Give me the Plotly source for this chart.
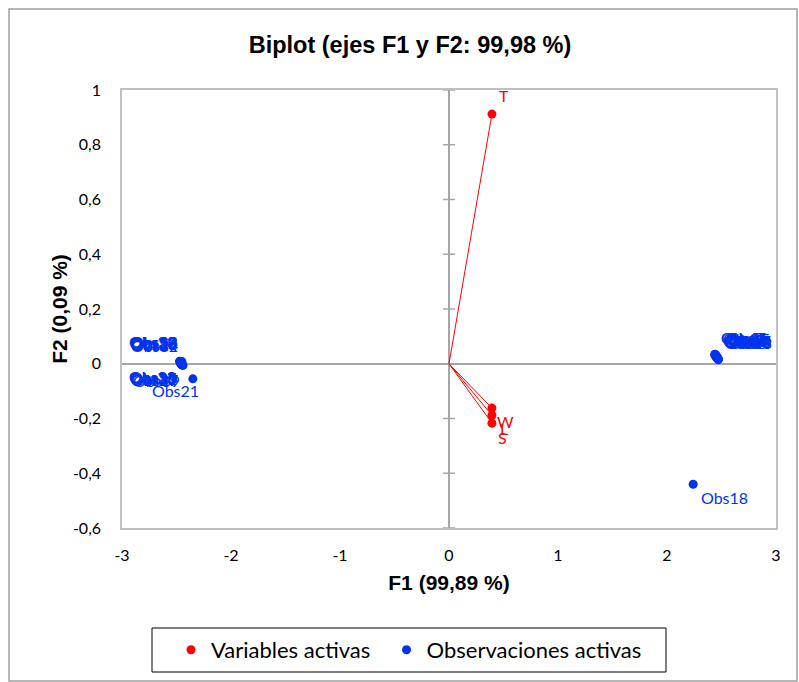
import plotly.graph_objects as go

# ---------------- data ----------------
var_names = ["T", "W", "L", "S"]
var_f1 = [0.394, 0.394, 0.394, 0.394]
var_f2 = [0.912, -0.162, -0.188, -0.217]

obs_names = ["Obs1", "Obs2", "Obs3", "Obs4", "Obs5", "Obs6", "Obs7", "Obs8", "Obs9", "Obs10",
             "Obs11", "Obs12", "Obs13", "Obs14", "Obs15", "Obs16", "Obs17", "Obs18", "Obs19",
             "Obs20", "Obs21", "Obs22", "Obs23", "Obs24", "Obs25", "Obs26", "Obs27", "Obs28",
             "Obs29", "Obs30", "Obs31", "Obs32", "Obs33", "Obs34", "Obs35", "Obs36", "Obs37",
             "Obs38", "Obs39", "Obs40"]
obs_f1 = [2.45, 2.46, 2.44, 2.47, 2.45, 2.46, 2.44, 2.47, 2.45, 2.46,
          2.44, 2.45, 2.47, 2.46, 2.45, 2.44, 2.46, 2.24, 2.47,
          -2.46, -2.35, -2.46, -2.47, -2.45, -2.46, -2.46, -2.45, -2.47,
          -2.45, -2.46, -2.46, -2.45, -2.47, -2.45, -2.46, -2.46, -2.45,
          -2.45, -2.44, -2.46]
obs_f2 = [0.030, 0.025, 0.035, 0.018, 0.028, 0.022, 0.033, 0.015, 0.027, 0.020,
          0.032, 0.024, 0.017, 0.021, 0.029, 0.034, 0.023, -0.440, 0.016,
          0.004, -0.055, 0.004, 0.008, -0.002, 0.006, 0.001, -0.004, 0.008,
          -0.003, 0.007, 0.002, -0.005, 0.009, -0.003, 0.005, 0.000, -0.004,
          0.008, -0.006, 0.003]

x_ticks = [-3, -2, -1, 0, 1, 2, 3]
y_ticks = [-0.6, -0.4, -0.2, 0, 0.2, 0.4, 0.6, 0.8, 1]
y_tick_text = ["-0,6", "-0,4", "-0,2", "0", "0,2", "0,4", "0,6", "0,8", "1"]

RED = "#ff0000"
BLUE = "#0033ee"
LABEL_FONT = "Lato, 'Open Sans', sans-serif"
BOLD_FONT = "Liberation Sans, Arial, sans-serif"

# label offsets (pixels) by placement
var_shift = [(12, 19), (14, -13), (12, -13), (11, -14)]
obs_shift = ([(30, 17)] * 17 + [(31, -13)] + [(30, 17)]
             + [(-27, -15), (-17, -12)]
             + [(-27, 20), (-27, -15)] * 9)

fig = go.Figure()

# vectors from origin to variables
lx, ly = [], []
for a, b in zip(var_f1, var_f2):
    lx += [0, a, None]
    ly += [0, b, None]
fig.add_trace(go.Scatter(x=lx, y=ly, mode="lines", line=dict(color=RED, width=1),
                         showlegend=False, hoverinfo="skip"))

fig.add_trace(go.Scatter(x=var_f1, y=var_f2, mode="markers",
                         name="Variables activas" + "\u00a0" * 2,
                         marker=dict(color=RED, size=9)))
fig.add_trace(go.Scatter(x=obs_f1, y=obs_f2, mode="markers", name="Observaciones activas",
                         marker=dict(color=BLUE, size=9)))

annotations = []
for n, a, b, (dx, dy) in zip(var_names, var_f1, var_f2, var_shift):
    annotations.append(dict(x=a, y=b, text=n, showarrow=False, xshift=dx, yshift=dy,
                            font=dict(color=RED, size=16, family=LABEL_FONT)))
for n, a, b, (dx, dy) in zip(obs_names, obs_f1, obs_f2, obs_shift):
    annotations.append(dict(x=a, y=b, text=n, showarrow=False, xshift=dx, yshift=dy,
                            font=dict(color=BLUE, size=16, family=LABEL_FONT)))

# crossing tick marks on the vertical zero axis
shapes = []
half = 6 * 6.0 / 654.0  # ~6 px in data units
for t in y_ticks:
    shapes.append(dict(type="line", xref="x", yref="y", x0=-half, x1=half, y0=t, y1=t,
                       line=dict(color="#a6a6a6", width=1.5), layer="below"))

# outer chart border
shapes.append(dict(type="rect", xref="paper", yref="paper",
                   x0=(9 - 122) / 654, x1=(797 - 122) / 654,
                   y0=-(681 - 528) / 438, y1=1 + (90 - 9) / 438,
                   line=dict(color="#a0a0a0", width=1.5)))
# legend frame
shapes.append(dict(type="rect", xref="paper", yref="paper",
                   x0=(152 - 122) / 654, x1=(666 - 122) / 654,
                   y0=-(672 - 528) / 438, y1=-(628 - 528) / 438,
                   line=dict(color="black", width=1)))

fig.update_layout(
    width=799, height=682,
    margin=dict(l=122, r=23, t=90, b=154, autoexpand=False),
    paper_bgcolor="white", plot_bgcolor="white",
    title=dict(text="<b>Biplot (ejes F1 y F2: 99,98 %)</b>", x=(410 - 122) / 654, xref="paper",
               xanchor="center", y=1 - 45 / 682, yanchor="middle",
               font=dict(family=BOLD_FONT, size=23.5, color="black")),
    xaxis=dict(range=[-3, 3], tickvals=x_ticks, ticktext=[str(v) for v in x_ticks],
               showgrid=False, zeroline=True, zerolinecolor="#a6a6a6", zerolinewidth=2,
               showline=True, mirror=True, linecolor="#c0c0c0", linewidth=1.5,
               ticks="", ticklabelstandoff=12, automargin=False,
               tickfont=dict(family=LABEL_FONT, size=16, color="black"),
               title=dict(text="<b>F1 (99,89 %)</b>", standoff=12,
                          font=dict(family=BOLD_FONT, size=21, color="black"))),
    yaxis=dict(range=[-0.6, 1], tickvals=y_ticks, ticktext=y_tick_text,
               showgrid=False, zeroline=True, zerolinecolor="#a6a6a6", zerolinewidth=2,
               showline=True, mirror=True, linecolor="#c0c0c0", linewidth=1.5,
               ticks="", ticklabelstandoff=16, automargin=False,
               tickfont=dict(family=LABEL_FONT, size=16, color="black"),
               title=dict(text="<b>F2 (0,09 %)</b>", standoff=0,
                          font=dict(family=BOLD_FONT, size=21, color="black"))),
    legend=dict(orientation="h", x=(171 - 122) / 654, xanchor="left",
                y=-(629 - 528) / 438, yanchor="top",
                bgcolor="rgba(0,0,0,0)", borderwidth=0,
                font=dict(family=LABEL_FONT, size=22, color="black"),
                itemwidth=30),
    annotations=annotations,
    shapes=shapes,
)

fig.write_html("out.html", config={"displayModeBar": False},
               post_script="document.body.style.margin='0';")
